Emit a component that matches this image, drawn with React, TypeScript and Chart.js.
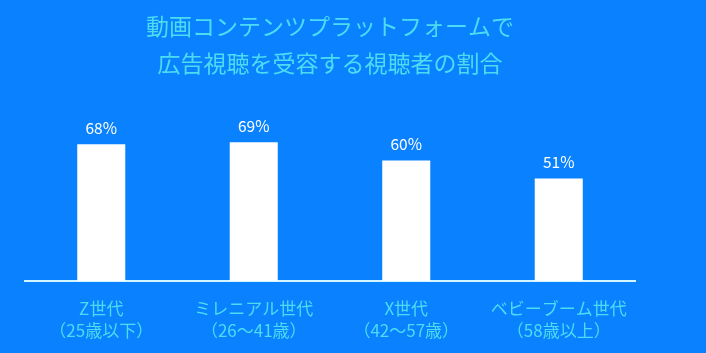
import React, { useEffect, useRef } from "react";
import { Chart, registerables } from "chart.js";

Chart.register(...registerables);

const titleLines = ["動画コンテンツプラットフォームで", "広告視聴を受容する視聴者の割合"];
const categories = [
  ["Z世代", "（25歳以下）"],
  ["ミレニアル世代", "（26〜41歳）"],
  ["X世代", "（42〜57歳）"],
  ["ベビーブーム世代", "（58歳以上）"],
];
const values = [68, 69, 60, 51];

const BG = "#0a82ff";
const CYAN = "#4cdcf2";
const FONT = "'Noto Sans CJK JP', 'Noto Sans', sans-serif";

const valueLabels = {
  id: "valueLabels",
  afterDatasetsDraw(chart: any) {
    const ctx = chart.ctx;
    const meta = chart.getDatasetMeta(0);
    ctx.save();
    ctx.fillStyle = "#ffffff";
    ctx.font = `15.5px ${FONT}`;
    ctx.textAlign = "center";
    ctx.textBaseline = "middle";
    meta.data.forEach((bar: any, i: number) => {
      ctx.fillText(`${values[i]}%`, bar.x, bar.y - 16);
    });
    ctx.restore();
  },
};

export default function App() {
  const ref = useRef<HTMLCanvasElement>(null);
  useEffect(() => {
    const chart = new Chart(ref.current!, {
      type: "bar",
      data: {
        labels: categories,
        datasets: [
          {
            data: values,
            backgroundColor: "#ffffff",
            borderWidth: 0,
            categoryPercentage: 1,
            barPercentage: 0.315,
          },
        ],
      },
      options: {
        responsive: false,
        animation: false,
        layout: { padding: { left: 25, right: 71, top: 0, bottom: 0 } },
        plugins: {
          legend: { display: false },
          tooltip: { enabled: false },
          title: {
            display: true,
            text: titleLines,
            color: CYAN,
            font: { family: FONT, size: 23, weight: "normal", lineHeight: 37 / 23 },
            padding: { top: 8, bottom: 0 },
          },
        },
        scales: {
          x: {
            grid: { display: false, drawTicks: false },
            border: { display: true, color: "#d2f6ff", width: 2 },
            ticks: {
              color: CYAN,
              padding: 17,
              maxRotation: 0,
              autoSkip: false,
              font: { family: FONT, size: 17, lineHeight: 22 / 17 },
            },
            afterFit: (s: any) => {
              s.height = 72;
            },
          },
          y: {
            display: false,
            min: 0,
            max: 99,
          },
        },
      },
      plugins: [valueLabels],
    });
    return () => chart.destroy();
  }, []);
  return (
    <div style={{ position: "fixed", left: 0, top: 0, width: 706, height: 353, background: BG }}>
      <canvas ref={ref} width={706} height={353} style={{ display: "block" }} />
    </div>
  );
}
